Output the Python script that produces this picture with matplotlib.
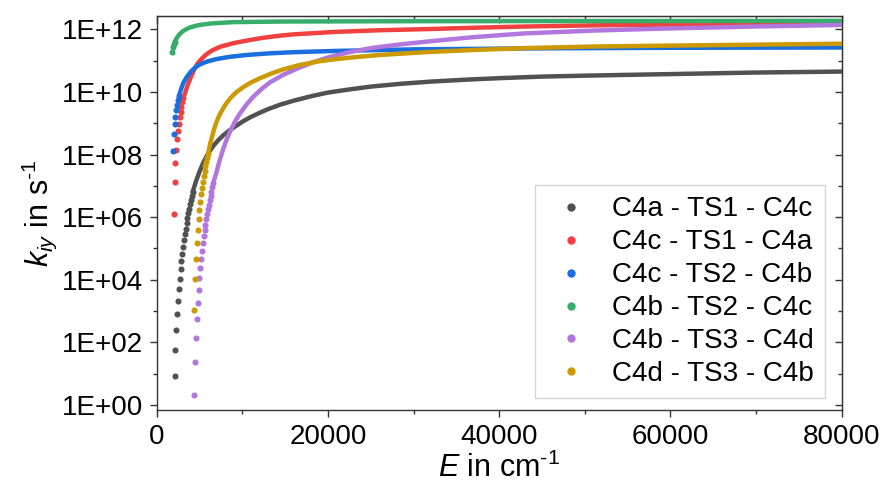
import numpy as np
import matplotlib
matplotlib.use('Agg')
import matplotlib.pyplot as plt
from matplotlib.lines import Line2D
from matplotlib.ticker import FixedLocator, FuncFormatter, MultipleLocator, NullFormatter

plt.rcParams['font.family'] = ['Liberation Sans', 'DejaVu Sans']
plt.rcParams['mathtext.fontset'] = 'custom'
plt.rcParams['mathtext.rm'] = 'Liberation Sans'
plt.rcParams['mathtext.it'] = 'Liberation Sans:italic'

# ---------------- data (E in cm^-1, log10 of k in s^-1) ----------------
labels = ['C4a - TS1 - C4c', 'C4c - TS1 - C4a', 'C4c - TS2 - C4b',
          'C4b - TS2 - C4c', 'C4b - TS3 - C4d', 'C4d - TS3 - C4b']
colors = ['#515151', '#F14040', '#1A6FDF', '#37AD6B', '#B177DE', '#CC9900']
E_step = 100

# C4a - TS1 - C4c
black_dot_E0 = 2100
black_dot_logk = [0.94, 1.76, 2.39, 2.90, 3.32, 3.69, 4.03, 4.33, 4.59, 4.83, 5.05,
                  5.26, 5.45, 5.63, 5.80, 5.96, 6.12, 6.27, 6.41, 6.55, 6.68, 6.80]
black_E = [4200, 4600, 5000, 5400, 5800, 6200, 6600, 7200, 7800, 8600, 9400, 10200,
           11000, 12000, 13000, 14500, 16000, 18000, 20000, 22500, 25000, 28500, 32000,
           36000, 40000, 45000, 50000, 56000, 62000, 70000, 80000]
black_logk = [6.80, 7.15, 7.45, 7.71, 7.93, 8.11, 8.27, 8.46, 8.62, 8.79, 8.94, 9.08,
              9.20, 9.33, 9.45, 9.60, 9.72, 9.86, 9.98, 10.08, 10.17, 10.26, 10.33,
              10.39, 10.44, 10.49, 10.52, 10.55, 10.58, 10.62, 10.65]

# C4c - TS1 - C4a
red_dot_E0 = 2000
red_dot_logk = [6.10, 7.11, 7.72, 8.14, 8.49, 8.76, 8.99, 9.19, 9.37, 9.53, 9.67, 9.80]
red_E = [3100, 3300, 3600, 3900, 4100, 4400, 4800, 5300, 5800, 6500, 7500, 9000, 10500,
         12000, 13000, 14500, 16000, 18500, 21000, 26000, 32000, 37000, 43000, 52000,
         62000, 70000, 80000]
red_logk = [9.80, 9.95, 10.20, 10.41, 10.54, 10.72, 10.92, 11.07, 11.20, 11.33, 11.45,
            11.56, 11.64, 11.71, 11.75, 11.80, 11.84, 11.88, 11.92, 11.97, 12.01, 12.05,
            12.09, 12.13, 12.16, 12.18, 12.21]

# C4c - TS2 - C4b
blue_dot_E0 = 1900
blue_dot_logk = [8.10, 8.66, 8.98, 9.21, 9.42, 9.57, 9.74, 9.87]
blue_E = [2600, 2800, 3100, 3500, 4000, 4500, 5000, 5500, 6000, 7000, 8500, 10500,
          13000, 16000, 21000, 30000, 43000, 60000, 80000]
blue_logk = [9.87, 10.05, 10.28, 10.47, 10.65, 10.78, 10.87, 10.93, 10.98, 11.05, 11.12,
             11.18, 11.23, 11.27, 11.31, 11.36, 11.39, 11.41, 11.42]

# C4b - TS2 - C4c
green_dot_E0 = 1800
green_dot_logk = [11.26, 11.42, 11.52, 11.60]
green_E = [2100, 2300, 2600, 3000, 3500, 4000, 5000, 6500, 9000, 12000, 15000, 30000,
           80000]
green_logk = [11.60, 11.70, 11.82, 11.93, 12.01, 12.07, 12.14, 12.19, 12.23, 12.24,
              12.25, 12.26, 12.27]

# C4b - TS3 - C4d
purple_dot_E0 = 4400
purple_dot_logk = [0.32, 1.38, 2.15, 2.75, 3.25, 3.67, 4.05, 4.38, 4.66, 4.93, 5.16, 5.40,
                   5.59, 5.75, 5.93, 6.10, 6.25, 6.40, 6.55, 6.68, 6.81, 6.95, 7.08]
purple_E = [6600, 7000, 7400, 7800, 8200, 8600, 9100, 9700, 10500, 11300, 12200, 13200,
            14800, 16700, 18300, 20000, 22500, 25000, 28500, 32000, 37000, 43000, 51000,
            60000, 70000, 80000]
purple_logk = [7.08, 7.45, 7.85, 8.20, 8.50, 8.75, 9.03, 9.30, 9.60, 9.85, 10.08, 10.30,
               10.55, 10.78, 10.95, 11.10, 11.27, 11.40, 11.52, 11.62, 11.75, 11.87,
               11.96, 12.03, 12.09, 12.14]

# C4d - TS3 - C4b
gold_dot_E0 = 4400
gold_dot_logk = [3.04, 4.01, 4.66, 5.16, 5.59, 5.93, 6.23, 6.49, 6.73, 6.94, 7.13, 7.31,
                 7.48, 7.64, 7.77, 7.90, 8.02]
gold_E = [6000, 6300, 6700, 7000, 7400, 8000, 8600, 9300, 10100, 11000, 12000, 13500,
          15000, 16700, 19000, 21000, 23500, 26000, 29000, 32000, 37000, 43000, 51000,
          60000, 70000, 80000]
gold_logk = [8.02, 8.40, 8.80, 9.05, 9.30, 9.58, 9.80, 9.99, 10.15, 10.30, 10.43, 10.60,
             10.74, 10.86, 10.98, 11.05, 11.12, 11.18, 11.23, 11.28, 11.34, 11.40, 11.45,
             11.48, 11.51, 11.54]

series = [
    (black_dot_E0, black_dot_logk, black_E, black_logk),
    (red_dot_E0, red_dot_logk, red_E, red_logk),
    (blue_dot_E0, blue_dot_logk, blue_E, blue_logk),
    (green_dot_E0, green_dot_logk, green_E, green_logk),
    (purple_dot_E0, purple_dot_logk, purple_E, purple_logk),
    (gold_dot_E0, gold_dot_logk, gold_E, gold_logk),
]

# ---------------- figure ----------------
fig = plt.figure(figsize=(8.85, 4.87), dpi=100)
ax = fig.add_axes([0.177, 0.158, 0.774, 0.809])

for i, ((e0, dlk, ce, clk), col) in enumerate(zip(series, colors)):
    de = e0 + E_step * np.arange(len(dlk))
    ax.plot(ce, 10.0 ** np.array(clk), '-', color=col, lw=3.2,
            solid_capstyle='round', solid_joinstyle='round', zorder=3 + i)
    ax.plot(de, 10.0 ** np.array(dlk), 'o', color=col, ms=4.4, mec='none',
            zorder=3 + i)

ax.set_yscale('log')
ax.set_xlim(0, 80000)
ax.set_ylim(0.69, 2.65e12)

ymaj = [10.0 ** p for p in range(0, 13, 2)]
ymin = [10.0 ** p for p in range(1, 13, 2)]
ax.yaxis.set_major_locator(FixedLocator(ymaj))
ax.yaxis.set_minor_locator(FixedLocator(ymin))
ax.yaxis.set_major_formatter(FuncFormatter(lambda v, p: f"1E+{int(round(np.log10(v))):02d}"))
ax.yaxis.set_minor_formatter(NullFormatter())
ax.xaxis.set_major_locator(MultipleLocator(20000))
ax.xaxis.set_minor_locator(MultipleLocator(10000))

tick_col = '#333333'
ax.tick_params(which='major', direction='out', length=5, width=1, labelsize=20,
               pad=5, color=tick_col)
ax.tick_params(which='minor', direction='out', length=3, width=1, color=tick_col)
for s in ax.spines.values():
    s.set_linewidth(1.0)
    s.set_color(tick_col)

sx = ax.secondary_xaxis('top')
sx.xaxis.set_major_locator(MultipleLocator(20000))
sx.xaxis.set_minor_locator(MultipleLocator(10000))
sx.tick_params(which='both', direction='in', labeltop=False, color=tick_col, width=1)
sx.tick_params(which='major', length=5)
sx.tick_params(which='minor', length=3)
sx.spines['top'].set_color(tick_col)

sy = ax.secondary_yaxis('right')
sy.yaxis.set_major_locator(FixedLocator(ymaj))
sy.yaxis.set_minor_locator(FixedLocator(ymin))
sy.tick_params(which='both', direction='in', labelright=False, color=tick_col, width=1)
sy.tick_params(which='major', length=5)
sy.tick_params(which='minor', length=3)
sy.spines['right'].set_color(tick_col)

ax.set_xlabel(r'$E$ in cm$^{\text{-1}}$', fontsize=22, labelpad=2)
ax.set_ylabel(r'$k_{iy}$ in s$^{\text{-1}}$', fontsize=22, labelpad=1.5)

handles = [Line2D([], [], marker='o', ls='none', color=c, ms=6, mec='none') for c in colors]
leg = ax.legend(handles, labels, loc='lower right', bbox_to_anchor=(0.9756, 0.030),
                fontsize=20, frameon=True, fancybox=False, edgecolor='#c8c8c8',
                labelspacing=0.25, handletextpad=0.58, handlelength=1.78,
                borderpad=0.4, borderaxespad=0.0)
leg.get_frame().set_linewidth(1.0)
leg.set_zorder(20)

fig.savefig('out.png', dpi=100)
